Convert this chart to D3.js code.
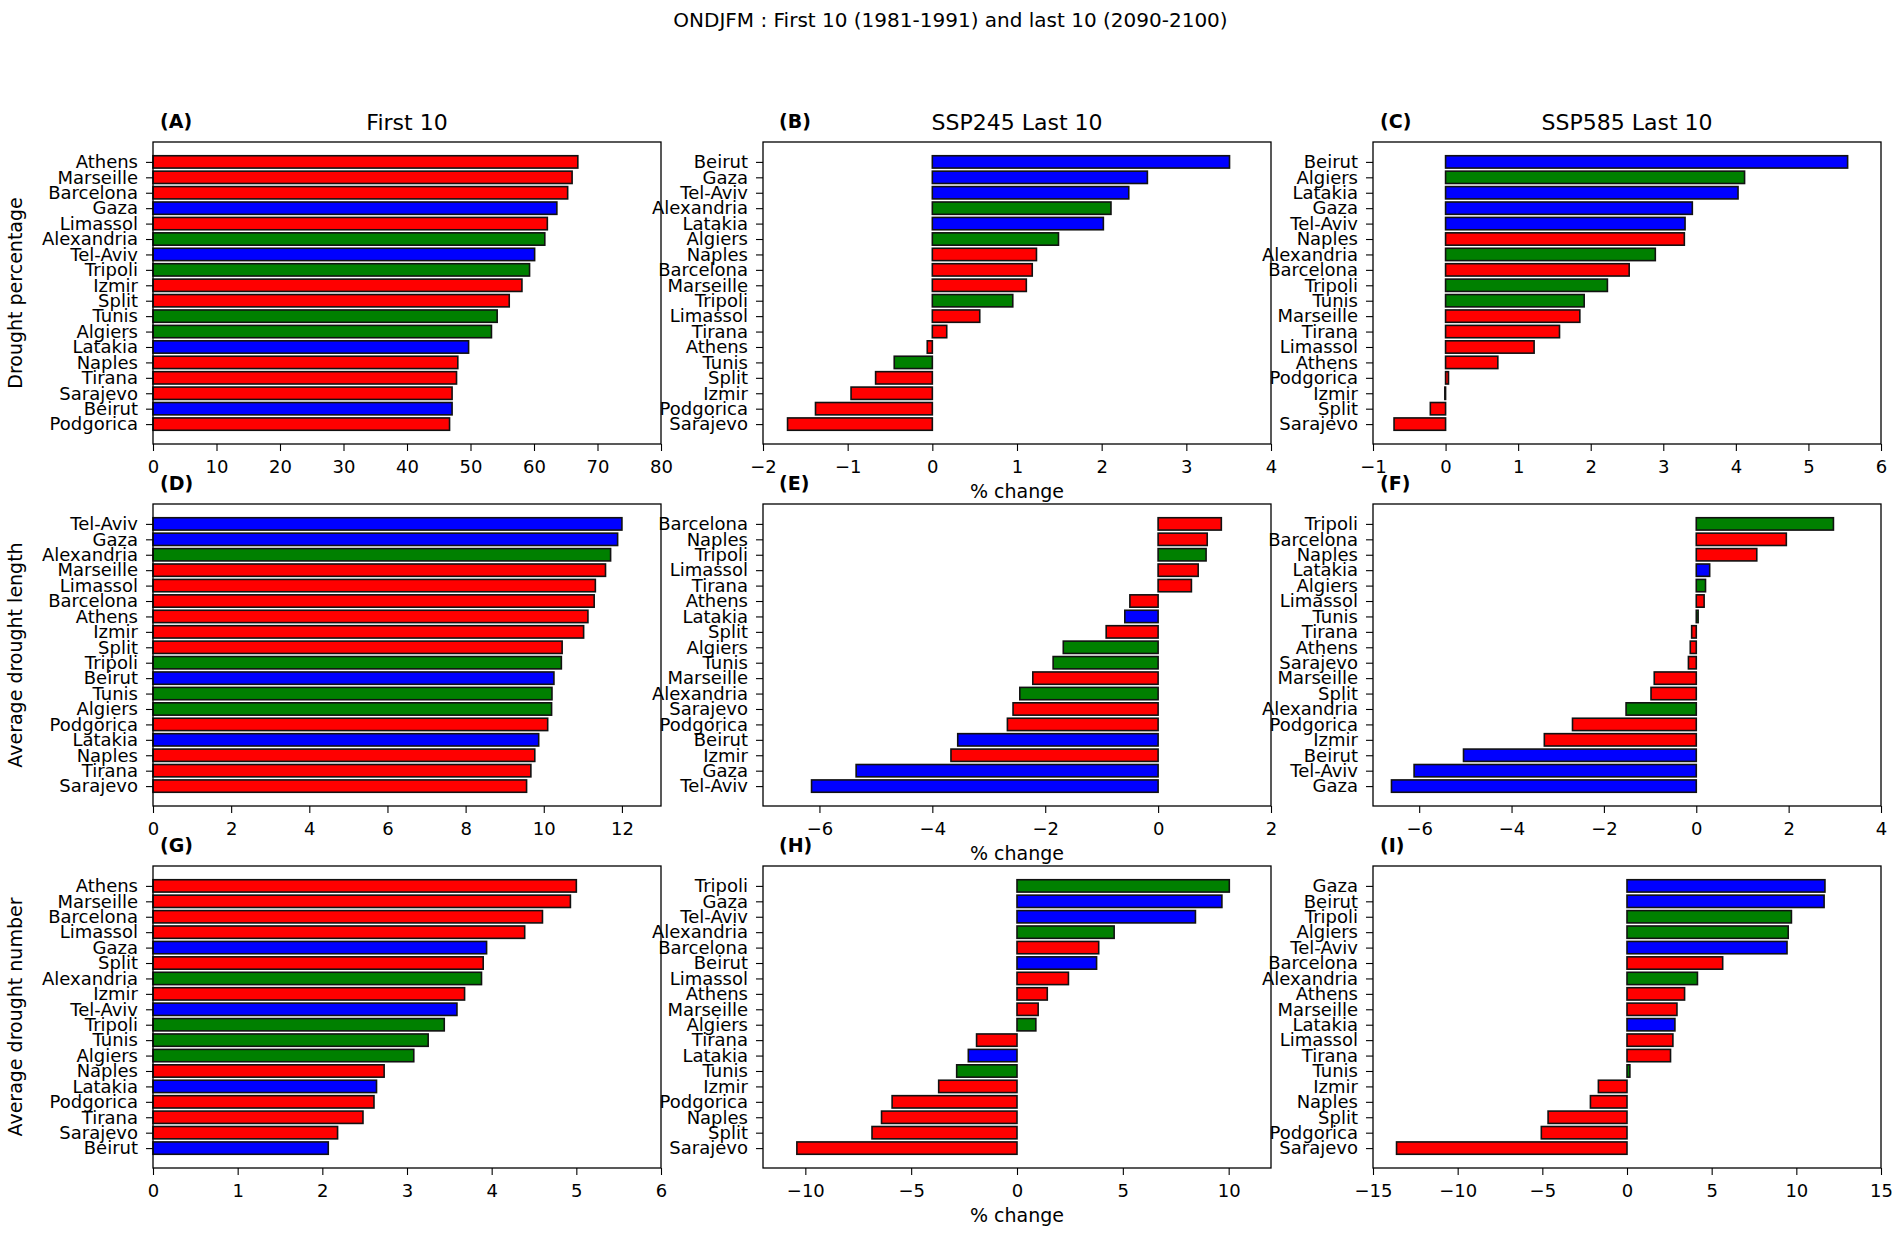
<!DOCTYPE html>
<html>
<head>
<meta charset="utf-8">
<script src="https://cdn.jsdelivr.net/npm/d3@7"></script>
<style>
  body { margin: 0; background: #fff; }
  svg { display: block; font-family: "DejaVu Sans", sans-serif; }
</style>
</head>
<body>
<svg id="chart" width="1901" height="1235"></svg>
<script>
// region groups (bar colour follows the city's region)
const regionNorth = ["Athens", "Marseille", "Barcelona", "Limassol", "Izmir", "Split", "Naples", "Tirana", "Sarajevo", "Podgorica"];
const regionSouth = ["Alexandria", "Tripoli", "Tunis", "Algiers"];
const regionEast = ["Gaza", "Tel-Aviv", "Latakia", "Beirut"];

// (A) drought percentage, first 10
const citiesA = ["Athens", "Marseille", "Barcelona", "Gaza", "Limassol", "Alexandria", "Tel-Aviv", "Tripoli", "Izmir", "Split", "Tunis", "Algiers", "Latakia", "Naples", "Tirana", "Sarajevo", "Beirut", "Podgorica"];
const valuesA = [66.9, 66.0, 65.3, 63.6, 62.1, 61.7, 60.1, 59.3, 58.1, 56.1, 54.2, 53.3, 49.7, 48.0, 47.8, 47.1, 47.1, 46.7];
// (B) SSP245 % change
const citiesB = ["Beirut", "Gaza", "Tel-Aviv", "Alexandria", "Latakia", "Algiers", "Naples", "Barcelona", "Marseille", "Tripoli", "Limassol", "Tirana", "Athens", "Tunis", "Split", "Izmir", "Podgorica", "Sarajevo"];
const valuesB = [3.51, 2.54, 2.32, 2.11, 2.02, 1.49, 1.23, 1.18, 1.11, 0.95, 0.56, 0.17, -0.06, -0.45, -0.67, -0.96, -1.38, -1.71];
// (C) SSP585 % change
const citiesC = ["Beirut", "Algiers", "Latakia", "Gaza", "Tel-Aviv", "Naples", "Alexandria", "Barcelona", "Tripoli", "Tunis", "Marseille", "Tirana", "Limassol", "Athens", "Podgorica", "Izmir", "Split", "Sarajevo"];
const valuesC = [5.54, 4.12, 4.03, 3.40, 3.30, 3.29, 2.89, 2.53, 2.23, 1.91, 1.85, 1.57, 1.22, 0.72, 0.04, -0.01, -0.21, -0.71];

// (D) average drought length, first 10
const citiesD = ["Tel-Aviv", "Gaza", "Alexandria", "Marseille", "Limassol", "Barcelona", "Athens", "Izmir", "Split", "Tripoli", "Beirut", "Tunis", "Algiers", "Podgorica", "Latakia", "Naples", "Tirana", "Sarajevo"];
const valuesD = [12.0, 11.89, 11.71, 11.58, 11.32, 11.29, 11.13, 11.02, 10.47, 10.45, 10.26, 10.21, 10.20, 10.10, 9.87, 9.77, 9.67, 9.56];
// (E) SSP245 % change
const citiesE = ["Barcelona", "Naples", "Tripoli", "Limassol", "Tirana", "Athens", "Latakia", "Split", "Algiers", "Tunis", "Marseille", "Alexandria", "Sarajevo", "Podgorica", "Beirut", "Izmir", "Gaza", "Tel-Aviv"];
const valuesE = [1.12, 0.87, 0.85, 0.71, 0.59, -0.50, -0.59, -0.92, -1.68, -1.86, -2.22, -2.45, -2.57, -2.67, -3.55, -3.67, -5.35, -6.14];
// (F) SSP585 % change
const citiesF = ["Tripoli", "Barcelona", "Naples", "Latakia", "Algiers", "Limassol", "Tunis", "Tirana", "Athens", "Sarajevo", "Marseille", "Split", "Alexandria", "Podgorica", "Izmir", "Beirut", "Tel-Aviv", "Gaza"];
const valuesF = [2.97, 1.95, 1.31, 0.29, 0.20, 0.17, 0.04, -0.10, -0.13, -0.17, -0.91, -0.98, -1.52, -2.68, -3.29, -5.04, -6.11, -6.60];

// (G) average drought number, first 10
const citiesG = ["Athens", "Marseille", "Barcelona", "Limassol", "Gaza", "Split", "Alexandria", "Izmir", "Tel-Aviv", "Tripoli", "Tunis", "Algiers", "Naples", "Latakia", "Podgorica", "Tirana", "Sarajevo", "Beirut"];
const valuesG = [5.00, 4.93, 4.60, 4.39, 3.94, 3.90, 3.88, 3.68, 3.59, 3.44, 3.25, 3.08, 2.73, 2.64, 2.61, 2.48, 2.18, 2.07];
// (H) SSP245 % change
const citiesH = ["Tripoli", "Gaza", "Tel-Aviv", "Alexandria", "Barcelona", "Beirut", "Limassol", "Athens", "Marseille", "Algiers", "Tirana", "Latakia", "Tunis", "Izmir", "Podgorica", "Naples", "Split", "Sarajevo"];
const valuesH = [10.03, 9.68, 8.43, 4.59, 3.86, 3.76, 2.43, 1.43, 1.00, 0.89, -1.91, -2.30, -2.85, -3.70, -5.90, -6.40, -6.85, -10.40];
// (I) SSP585 % change
const citiesI = ["Gaza", "Beirut", "Tripoli", "Algiers", "Tel-Aviv", "Barcelona", "Alexandria", "Athens", "Marseille", "Latakia", "Limassol", "Tirana", "Tunis", "Izmir", "Naples", "Split", "Podgorica", "Sarajevo"];
const valuesI = [11.69, 11.64, 9.71, 9.52, 9.45, 5.65, 4.16, 3.40, 2.95, 2.83, 2.71, 2.57, 0.17, -1.69, -2.16, -4.66, -5.06, -13.61];

const rowLabels = ["Drought percentage", "Average drought length", "Average drought number"];
const colTitles = ["First 10", "SSP245 Last 10", "SSP585 Last 10"];

////////////////////////////////////////////////////////////
//// Setup /////////////////////////////////////////////////
////////////////////////////////////////////////////////////
const svg = d3.select("#chart");
const colLeft = [153, 763, 1373];
const rowTop = [142, 504, 866];
const panelW = 508;
const panelH = 302;

const colorOf = city =>
	regionEast.includes(city) ? "blue" : regionSouth.includes(city) ? "green" : "red";

const panels = [
	{ tag: "A", row: 0, col: 0, cities: citiesA, values: valuesA, domain: [0, 80], ticks: d3.range(0, 81, 10) },
	{ tag: "B", row: 0, col: 1, cities: citiesB, values: valuesB, domain: [-2, 4], ticks: d3.range(-2, 5, 1), xlabel: true },
	{ tag: "C", row: 0, col: 2, cities: citiesC, values: valuesC, domain: [-1, 6], ticks: d3.range(-1, 7, 1) },
	{ tag: "D", row: 1, col: 0, cities: citiesD, values: valuesD, domain: [0, 13], ticks: d3.range(0, 13, 2) },
	{ tag: "E", row: 1, col: 1, cities: citiesE, values: valuesE, domain: [-7, 2], ticks: d3.range(-6, 3, 2), xlabel: true },
	{ tag: "F", row: 1, col: 2, cities: citiesF, values: valuesF, domain: [-7, 4], ticks: d3.range(-6, 5, 2) },
	{ tag: "G", row: 2, col: 0, cities: citiesG, values: valuesG, domain: [0, 6], ticks: d3.range(0, 7, 1) },
	{ tag: "H", row: 2, col: 1, cities: citiesH, values: valuesH, domain: [-12, 12], ticks: d3.range(-10, 11, 5), xlabel: true },
	{ tag: "I", row: 2, col: 2, cities: citiesI, values: valuesI, domain: [-15, 15], ticks: d3.range(-15, 16, 5) }
];

svg.append("text")
	.attr("x", 950.5)
	.attr("y", 27)
	.attr("text-anchor", "middle")
	.attr("font-size", 20)
	.text("ONDJFM : First 10 (1981-1991) and last 10 (2090-2100)");

////////////////////////////////////////////////////////////
//// Render ////////////////////////////////////////////////
////////////////////////////////////////////////////////////
panels.forEach(p => {
	const g = svg.append("g")
		.attr("transform", `translate(${colLeft[p.col]},${rowTop[p.row]})`);

	const n = p.cities.length;
	const pad = 0.05 * (n - 1 + 0.8);
	const x = d3.scaleLinear().domain(p.domain).range([0, panelW]);
	const y = d3.scaleLinear().domain([-0.4 - pad, n - 1 + 0.4 + pad]).range([0, panelH]);

	// bars
	g.append("g")
		.selectAll("rect")
		.data(p.values)
		.join("rect")
		.attr("x", d => x(Math.min(0, d)))
		.attr("width", d => Math.abs(x(d) - x(0)))
		.attr("y", (d, i) => y(i - 0.4))
		.attr("height", (d, i) => y(i + 0.4) - y(i - 0.4))
		.attr("fill", (d, i) => colorOf(p.cities[i]))
		.attr("stroke", "#111")
		.attr("stroke-width", 1.6);

	// axes
	const yAxis = g.append("g")
		.call(d3.axisLeft(y)
			.tickValues(d3.range(n))
			.tickFormat(i => p.cities[i])
			.tickSize(7)
			.tickSizeOuter(0)
			.tickPadding(8));
	const xAxis = g.append("g")
		.attr("transform", `translate(0,${panelH})`)
		.call(d3.axisBottom(x)
			.tickValues(p.ticks)
			.tickFormat(d3.format("d"))
			.tickSize(7)
			.tickSizeOuter(0)
			.tickPadding(9));
	[yAxis, xAxis].forEach(a => {
		a.select(".domain").remove();
		a.attr("font-size", 18).attr("font-family", "DejaVu Sans, sans-serif");
		a.selectAll(".tick line").attr("stroke", "#000").attr("stroke-width", 1.1);
		a.selectAll(".tick text").attr("fill", "#000");
	});

	// frame
	g.append("rect")
		.attr("width", panelW)
		.attr("height", panelH)
		.attr("fill", "none")
		.attr("stroke", "#000")
		.attr("stroke-width", 1.3);

	// panel letter
	g.append("text")
		.attr("x", p.col === 1 ? 16 : 7)
		.attr("y", -14)
		.attr("font-size", 19)
		.attr("font-weight", "bold")
		.text(`(${p.tag})`);

	if (p.row === 0) {
		g.append("text")
			.attr("x", panelW / 2)
			.attr("y", -12)
			.attr("text-anchor", "middle")
			.attr("font-size", 22)
			.text(colTitles[p.col]);
	}

	if (p.col === 0) {
		g.append("text")
			.attr("transform", `translate(${22 - colLeft[0]},${panelH / 2}) rotate(-90)`)
			.attr("text-anchor", "middle")
			.attr("font-size", 19)
			.text(rowLabels[p.row]);
	}

	if (p.xlabel) {
		g.append("text")
			.attr("x", panelW / 2)
			.attr("y", panelH + 54)
			.attr("text-anchor", "middle")
			.attr("font-size", 19)
			.text("% change");
	}
});
</script>
</body>
</html>
